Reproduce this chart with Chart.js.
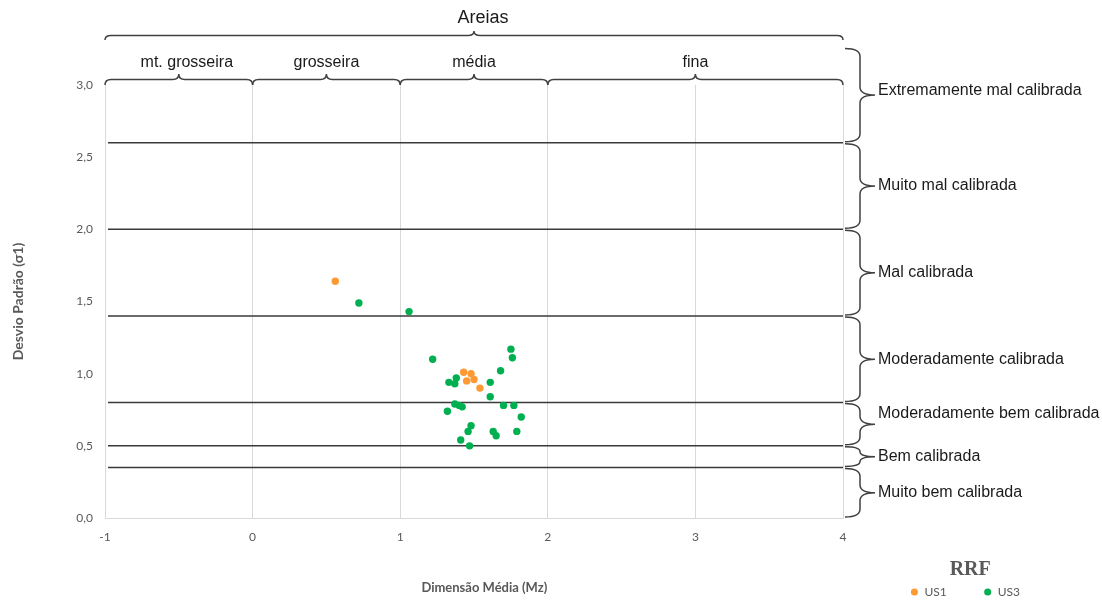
<!DOCTYPE html>
<html>
<head>
<meta charset="utf-8">
<script src="https://cdn.jsdelivr.net/npm/chart.js@4"></script>
<style>
    html, body { margin: 0; padding: 0; background: #fff; }
</style>
</head>
<body>
<canvas id="myChart" width="1102" height="603"></canvas>
<script>
// series: x = Mz, y = sigma1
var us1X = [0.56, 1.43, 1.48, 1.45, 1.50, 1.54];
var us1Y = [1.64, 1.01, 1.00, 0.95, 0.96, 0.90];

var us3X = [0.72, 1.06, 1.22, 1.75, 1.76, 1.68, 1.33, 1.38, 1.37, 1.61, 1.61, 1.37, 1.40,
            1.42, 1.70, 1.77, 1.32, 1.82, 1.48, 1.46, 1.63, 1.65, 1.79, 1.41, 1.47];
var us3Y = [1.49, 1.43, 1.10, 1.17, 1.11, 1.02, 0.94, 0.97, 0.93, 0.94, 0.84, 0.79, 0.78,
            0.77, 0.78, 0.78, 0.74, 0.70, 0.64, 0.60, 0.60, 0.57, 0.60, 0.54, 0.50];

// sorting class limits (horizontal lines)
var classLimits = [2.6, 2.0, 1.4, 0.8, 0.5, 0.35];
var lineStart = -0.98;
var lineEnd = 4;

var sortingNames = ["Extremamente mal calibrada", "Muito mal calibrada", "Mal calibrada",
                    "Moderadamente calibrada", "Moderadamente bem calibrada",
                    "Bem calibrada", "Muito bem calibrada"];
var sortingLow = [2.6, 2.0, 1.4, 0.8, 0.5, 0.35, 0];
var sortingHigh = [3.26, 2.6, 2.0, 1.4, 0.8, 0.5, 0.35];

var grainNames = ["mt. grosseira", "grosseira", "média", "fina"];
var grainLow = [-1, 0, 1, 2];
var grainHigh = [0, 1, 2, 4];
var groupName = "Areias";

var xMin = -1, xMax = 4, xStep = 1;
var yMin = 0, yMax = 3, yStep = 0.5;

function toPoints(xs, ys) {
    var pts = [];
    xs.forEach(function (x, i) {
        pts.push({ x: x, y: ys[i] });
    });
    return pts;
}

function buildDatasets() {
    var sets = [
        {
            label: "US1",
            data: toPoints(us1X, us1Y),
            backgroundColor: "#ff9933",
            borderColor: "#ff9933",
            pointRadius: 3.7,
            pointBorderWidth: 0,
        },
        {
            label: "US3",
            data: toPoints(us3X, us3Y),
            backgroundColor: "#00b050",
            borderColor: "#00b050",
            pointRadius: 3.7,
            pointBorderWidth: 0,
        },
    ];

    classLimits.forEach(function (v) {
        sets.push({
            label: "limit " + v,
            data: [{ x: lineStart, y: v }, { x: lineEnd, y: v }],
            showLine: true,
            borderColor: "#3a3a3a",
            borderWidth: 1.5,
            pointRadius: 0,
            fill: false,
        });
    });

    return sets;
}

// curly brace opening downwards onto the plot, tip pointing up
function hBrace(ctx, x1, x2, y, h) {
    var m = (x1 + x2) / 2;
    var r = 6;
    ctx.beginPath();
    ctx.moveTo(x1, y + h);
    ctx.quadraticCurveTo(x1, y, x1 + r, y);
    ctx.lineTo(m - r, y);
    ctx.quadraticCurveTo(m, y, m, y - h);
    ctx.quadraticCurveTo(m, y, m + r, y);
    ctx.lineTo(x2 - r, y);
    ctx.quadraticCurveTo(x2, y, x2, y + h);
    ctx.stroke();
}

// curly brace on the right side, tip pointing right
function vBrace(ctx, x, y1, y2, w) {
    var m = (y1 + y2) / 2;
    var r = Math.min(8, (y2 - y1) / 4);
    ctx.beginPath();
    ctx.moveTo(x - w, y1);
    ctx.quadraticCurveTo(x, y1, x, y1 + r);
    ctx.lineTo(x, m - r);
    ctx.quadraticCurveTo(x, m, x + w, m);
    ctx.quadraticCurveTo(x, m, x, m + r);
    ctx.lineTo(x, y2 - r);
    ctx.quadraticCurveTo(x, y2, x - w, y2);
    ctx.stroke();
}

var bracePlugin = {
    id: "braces",
    afterDraw: function (chart) {
        var ctx = chart.ctx;
        var xs = chart.scales.x;
        var ys = chart.scales.y;
        var area = chart.chartArea;

        ctx.save();
        ctx.strokeStyle = "#404040";
        ctx.lineWidth = 1.5;
        ctx.fillStyle = "#1a1a1a";
        ctx.textAlign = "center";
        ctx.textBaseline = "middle";

        // grain size classes on top
        ctx.font = "16px 'Liberation Sans', Arial, sans-serif";
        grainNames.forEach(function (name, i) {
            var a = xs.getPixelForValue(grainLow[i]);
            var b = xs.getPixelForValue(grainHigh[i]);
            hBrace(ctx, a, b, area.top - 5.5, 5.5);
            ctx.fillText(name, (a + b) / 2 + (i === 0 ? 8 : 0), area.top - 22);
        });

        // "Areias" over the whole range
        var a0 = xs.getPixelForValue(xMin);
        var b0 = xs.getPixelForValue(xMax);
        hBrace(ctx, a0, b0, area.top - 49.5, 4.5);
        ctx.font = "18px 'Liberation Sans', Arial, sans-serif";
        ctx.fillText(groupName, (a0 + b0) / 2 + 9, area.top - 67);

        // sorting classes on the right
        ctx.font = "16px 'Liberation Sans', Arial, sans-serif";
        ctx.textAlign = "left";
        var nudge = { 0: -5, 4: -11 };
        sortingNames.forEach(function (name, i) {
            var top = ys.getPixelForValue(sortingHigh[i]) + 1;
            var bottom = ys.getPixelForValue(sortingLow[i]) - 1;
            vBrace(ctx, area.right + 17, top, bottom, 15);
            ctx.fillText(name, area.right + 35, (top + bottom) / 2 + (nudge[i] || 0));
        });

        // x axis title, sits level with the legend like the original
        ctx.textAlign = "center";
        ctx.fillStyle = "#595959";
        ctx.font = "bold 13px Lato, sans-serif";
        ctx.fillText("Dimensão Média (Mz)", xs.getPixelForValue(1.57), area.bottom + 70);

        ctx.restore();
    },
};

var config = {
    type: "scatter",
    data: { datasets: buildDatasets() },
    options: {
        responsive: false,
        animation: false,
        layout: {
            padding: { top: 85, right: 72, bottom: -5, left: 0 },
        },
        plugins: {
            tooltip: { enabled: false },
            legend: {
                position: "bottom",
                align: "end",
                title: {
                    display: true,
                    text: "RRF",
                    color: "#595959",
                    padding: 0,
                    font: { family: "'Liberation Serif', serif", size: 20, weight: "bold", lineHeight: 0.8 },
                },
                labels: {
                    usePointStyle: true,
                    boxWidth: 8,
                    boxHeight: 5,
                    padding: 10,
                    color: "#595959",
                    font: { family: "Lato", size: 12 },
                    filter: function (item) {
                        return item.datasetIndex < 2;
                    },
                    generateLabels: function (chart) {
                        var items = Chart.defaults.plugins.legend.labels.generateLabels(chart);
                        // em spaces push the second entry away, as in the original
                        items[0].text = items[0].text + "\u2003\u2003\u2003";
                        return items;
                    },
                },
            },
        },
        scales: {
            x: {
                type: "linear",
                position: "bottom",
                min: xMin,
                max: xMax,
                ticks: {
                    stepSize: xStep,
                    padding: 12,
                    color: "#595959",
                    font: { family: "Lato", size: 12 },
                },
                grid: { color: "#d9d9d9", drawTicks: false },
                border: { color: "#d9d9d9" },
                afterFit: function (s) {
                    s.height = 42;
                },
            },
            y: {
                type: "linear",
                position: "left",
                min: yMin,
                max: yMax,
                ticks: {
                    stepSize: yStep,
                    padding: 12,
                    color: "#595959",
                    font: { family: "Lato", size: 12 },
                    callback: function (value) {
                        return value.toFixed(1).replace(".", ",");
                    },
                },
                grid: { display: false, drawTicks: false },
                border: { display: false },
                title: {
                    display: true,
                    text: "Desvio Padrão (σ1)",
                    color: "#595959",
                    font: { family: "Lato", size: 14, weight: "bold" },
                    padding: { top: 10, bottom: 0 },
                },
                afterFit: function (s) {
                    s.width = 105;
                },
            },
            // empty axis that keeps room for the brace labels on the right
            yRight: {
                type: "linear",
                position: "right",
                ticks: { display: false },
                grid: { display: false, drawTicks: false },
                border: { display: false },
                afterFit: function (s) {
                    s.width = 187;
                },
            },
        },
    },
    plugins: [bracePlugin],
};

var ctx = document.getElementById("myChart").getContext("2d");
var myChart = new Chart(ctx, config);
</script>
</body>
</html>
